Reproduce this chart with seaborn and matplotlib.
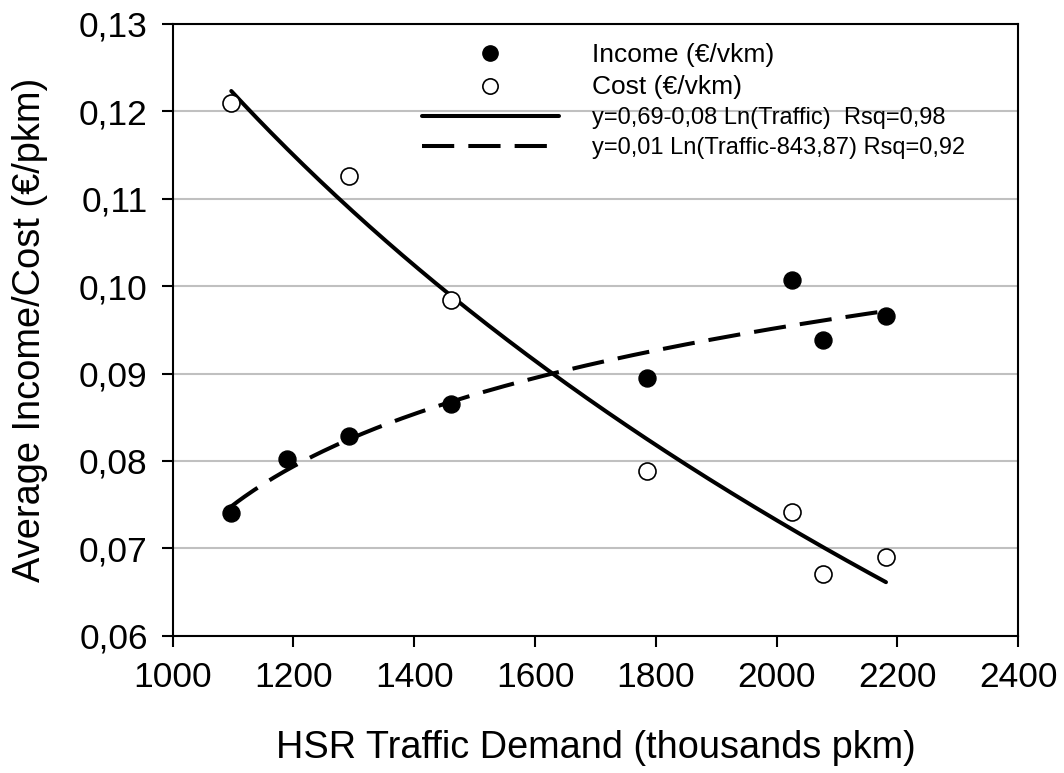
import numpy as np
import pandas as pd
import seaborn as sns
import matplotlib.pyplot as plt
from matplotlib.lines import Line2D

# values
income_traffic = [1097, 1190, 1292, 1460, 1786, 2026, 2077, 2181]
income_values = [0.0740, 0.0802, 0.0829, 0.0865, 0.0895, 0.1007, 0.0938, 0.0966]
cost_traffic = [1097, 1292, 1460, 1786, 2026, 2077, 2181]
cost_values = [0.1209, 0.1126, 0.0984, 0.0789, 0.0742, 0.0671, 0.0690]

income_shift = 843.87
x_ticks = [1000, 1200, 1400, 1600, 1800, 2000, 2200, 2400]
y_ticks = [0.06, 0.07, 0.08, 0.09, 0.10, 0.11, 0.12, 0.13]

sns.set_style("white")
plt.rcParams['font.family'] = ['Liberation Sans', 'DejaVu Sans']
plt.rcParams.update({"text.color": "black", "axes.labelcolor": "black",
                     "xtick.color": "black", "ytick.color": "black"})

income_df = pd.DataFrame({"traffic": income_traffic, "value": income_values})
cost_df = pd.DataFrame({"traffic": cost_traffic, "value": cost_values})

# log trend lines fitted on the data
b_cost, a_cost = np.polyfit(np.log(cost_df["traffic"]), cost_df["value"], 1)
b_inc, a_inc = np.polyfit(np.log(income_df["traffic"] - income_shift), income_df["value"], 1)

xs = np.linspace(min(cost_traffic), max(cost_traffic), 200)
cost_fit = pd.DataFrame({"traffic": xs, "value": a_cost + b_cost * np.log(xs)})
xs2 = np.linspace(min(income_traffic), max(income_traffic), 200)
inc_fit = pd.DataFrame({"traffic": xs2, "value": a_inc + b_inc * np.log(xs2 - income_shift)})

fig, ax = plt.subplots(figsize=(10.64, 7.73), dpi=100)
fig.subplots_adjust(left=0.1623, right=0.957, top=0.969, bottom=0.1776)

ax.yaxis.grid(True, color="#c0c0c0", linewidth=1.5)
ax.set_axisbelow(True)

sns.lineplot(data=cost_fit, x="traffic", y="value", ax=ax, color="black", linewidth=2.9)
sns.lineplot(data=inc_fit, x="traffic", y="value", ax=ax, color="black", linewidth=2.9,
             dashes=False)
ax.lines[-1].set_dashes((8, 3.5))

sns.scatterplot(data=income_df, x="traffic", y="value", ax=ax, color="black",
                edgecolor="black", s=150, zorder=5)
sns.scatterplot(data=cost_df, x="traffic", y="value", ax=ax, facecolor="white",
                edgecolor="black", linewidth=1.2, s=150, zorder=5)

ax.set_xlim(1000, 2400)
ax.set_ylim(0.06, 0.13)
ax.set_xticks(x_ticks)
ax.set_yticks(y_ticks)
ax.set_xticklabels([str(t) for t in x_ticks])
ax.set_yticklabels([f"{t:.2f}".replace(".", ",") for t in y_ticks])
ax.tick_params(axis="both", labelsize=25.5, length=8, width=1.5, direction="out",
               left=True, bottom=True, pad=10)
for sp in ax.spines.values():
    sp.set_color("black")
    sp.set_linewidth(1.5)

ax.set_xlabel("HSR Traffic Demand (thousands pkm)", fontsize=27.3, labelpad=26)
ax.set_ylabel("Average Income/Cost (€/pkm)", fontsize=27.4, labelpad=22)

handles = [
    Line2D([], [], linestyle="none", marker="o", markersize=11, markerfacecolor="black",
           markeredgecolor="black"),
    Line2D([], [], linestyle="none", marker="o", markersize=11, markerfacecolor="white",
           markeredgecolor="black", markeredgewidth=1.2),
    Line2D([], [], color="black", linewidth=2.9),
    Line2D([], [], color="black", linewidth=2.9, dashes=(8, 3.5)),
]
labels = [
    "Income (€/vkm)",
    "Cost (€/vkm)",
    "y=0,69-0,08 Ln(Traffic)  Rsq=0,98",
    "y=0,01 Ln(Traffic-843,87) Rsq=0,92",
]
leg = ax.legend(handles, labels, loc="upper left", bbox_to_anchor=(0.2835, 0.985),
                frameon=False, fontsize=17, handlelength=5.8, handletextpad=1.4,
                labelspacing=0.35, borderaxespad=0)
for t in leg.get_texts()[:2]:
    t.set_fontsize(19)

fig.savefig("out.png", dpi=100)
